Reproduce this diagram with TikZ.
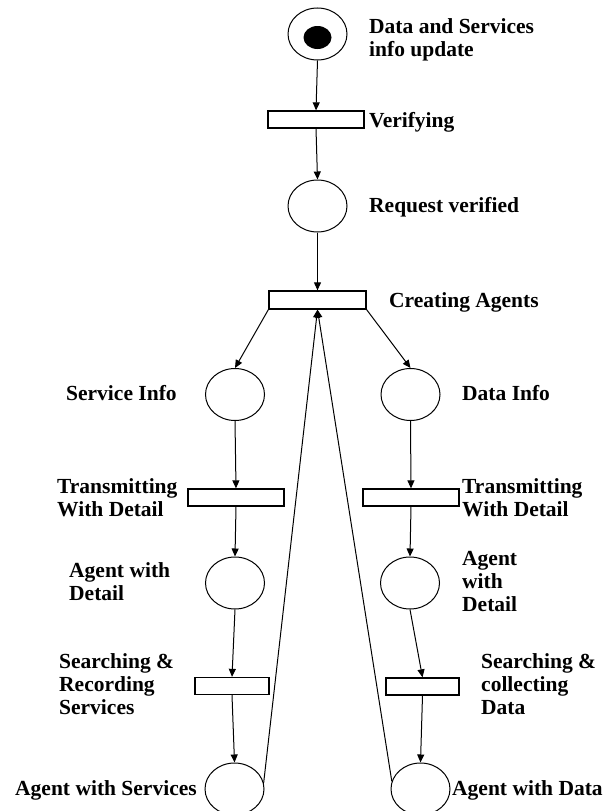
\documentclass[tikz,border=0pt]{standalone}
\usepackage{fontspec}
\setmainfont{Liberation Serif}
\usetikzlibrary{shapes.geometric,arrows.meta}
\begin{document}
\begin{tikzpicture}[x=1pt,y=-1pt,
  place/.style={draw,ellipse,line width=1pt,minimum width=59pt,minimum height=52pt,inner sep=0pt},
  trans/.style={draw,rectangle,line width=1.3pt,minimum height=17pt,inner sep=0pt},
  arc/.style={line width=1pt,-{Triangle[length=8pt,width=7pt]}},
  lbl/.style={anchor=base west,inner sep=0pt,font=\fontsize{21.5}{23}\selectfont\bfseries}]
\useasboundingbox (0,0) rectangle (612,811);
% places and transitions
\node[place] (start) at (317.5,34) {};
\fill (317.5,37.5) ellipse [x radius=14pt,y radius=11.5pt];
\node[trans,minimum width=96pt] (ver) at (316,119.5) {};
\node[place] (req) at (317.5,206) {};
\node[trans,minimum width=97pt,minimum height=18pt] (ca) at (317.5,300) {};
\node[place] (si) at (235,394.5) {};
\node[place] (di) at (410.5,394.5) {};
\node[trans,minimum width=96pt] (trL) at (236,497.5) {};
\node[trans,minimum width=96pt] (trR) at (411,497.5) {};
\node[place] (awdL) at (235,583) {};
\node[place] (awdR) at (410,583) {};
\node[trans,minimum width=74pt] (srL) at (232,686) {};
\node[trans,minimum width=73pt] (srR) at (422.5,686.5) {};
\node[place] (aws) at (234.5,789) {};
\node[place] (awda) at (420.5,789) {};
% arcs
\draw[arc] (start.south) -- (ver.north);
\draw[arc] (ver.south) -- (req.north);
\draw[arc] (req.south) -- (ca.north);
\draw[arc] (ca.south west) -- (si.north);
\draw[arc] (ca.south east) -- (di.north);
\draw[arc] (si.south) -- (trL.north);
\draw[arc] (di.south) -- (trR.north);
\draw[arc] (trL.south) -- (awdL.north);
\draw[arc] (trR.south) -- (awdR.north);
\draw[arc] (awdL.south) -- (srL.north);
\draw[arc] (awdR.south) -- (srR.north);
\draw[arc] (srL.south) -- (aws.north);
\draw[arc] (srR.south) -- (awda.north);
\draw[arc] (aws.12) -- (ca.south);
\draw[arc] (awda.165) -- (ca.south);
% labels
\node[lbl] (l1) at (369,33) {\begin{tabular}[t]{@{}l@{}}Data and Services\\info update\end{tabular}};
\node[lbl] (l2) at (369,127) {Verifying};
\node[lbl] (l3) at (369,212) {Request verified};
\node[lbl] (l4) at (389,307) {Creating Agents};
\node[lbl] (l5) at (66,400) {Service Info};
\node[lbl] (l6) at (462,400) {Data Info};
\node[lbl] (l7) at (57,493) {\begin{tabular}[t]{@{}l@{}}Transmitting\\With Detail\end{tabular}};
\node[lbl] (l8) at (462,493) {\begin{tabular}[t]{@{}l@{}}Transmitting\\With Detail\end{tabular}};
\node[lbl] (l9) at (69,577) {\begin{tabular}[t]{@{}l@{}}Agent with\\Detail\end{tabular}};
\node[lbl] (l10) at (462,565) {\begin{tabular}[t]{@{}l@{}}Agent\\with\\Detail\end{tabular}};
\node[lbl] (l11) at (59,668) {\begin{tabular}[t]{@{}l@{}}Searching \&\\Recording\\Services\end{tabular}};
\node[lbl] (l12) at (481,668) {\begin{tabular}[t]{@{}l@{}}Searching \&\\collecting\\Data\end{tabular}};
\node[lbl] (l13) at (15,795) {Agent with Services};
\node[lbl] (l14) at (452,795) {Agent with Data};
\end{tikzpicture}
\end{document}
